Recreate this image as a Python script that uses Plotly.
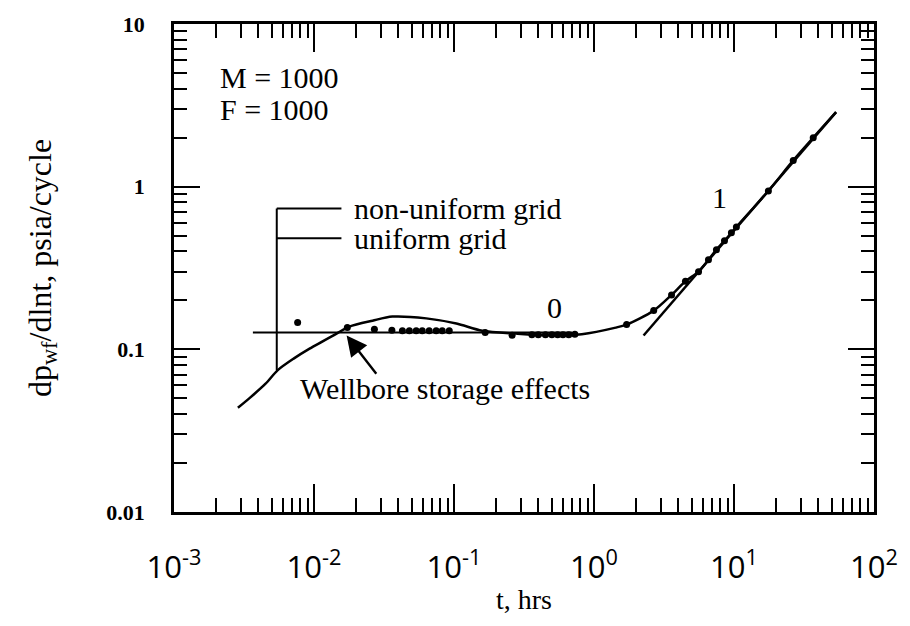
import math
import plotly.graph_objects as go

# ---- data ----
t_curve = [0.00286, 0.00348, 0.00451, 0.00551, 0.0072, 0.0093, 0.0145, 0.0179, 0.0262, 0.0363, 0.0634,
           0.104, 0.159, 0.277, 0.477, 0.818, 1.43, 1.71, 2.67, 3.58, 4.5, 5.58, 6.57,
           7.49, 8.55, 9.58, 10.4, 17.6, 26.5, 36.8, 53.6]
y_curve = [0.0437, 0.0503, 0.0615, 0.0745, 0.088, 0.101, 0.125, 0.138, 0.150, 0.159, 0.155,
           0.144, 0.130, 0.125, 0.122, 0.124, 0.136, 0.142, 0.173, 0.216, 0.262, 0.300, 0.355,
           0.410, 0.465, 0.520, 0.565, 0.940, 1.45, 2.00, 2.87]

t_dots = [0.00764, 0.0173, 0.027, 0.036, 0.0428, 0.048, 0.0537, 0.0593, 0.0665, 0.0746,
          0.0824, 0.0925, 0.167, 0.26, 0.36, 0.40, 0.45, 0.50, 0.55, 0.60, 0.66, 0.73,
          1.71, 2.67, 3.58, 4.5, 5.58, 6.57, 7.49, 8.55, 9.58, 10.4, 17.6, 26.5, 36.8]
y_dots = [0.146, 0.136, 0.133, 0.131, 0.130, 0.130, 0.130, 0.130, 0.130, 0.130,
          0.130, 0.130, 0.127, 0.122, 0.123, 0.123, 0.123, 0.123, 0.123, 0.123, 0.123, 0.124,
          0.142, 0.173, 0.216, 0.262, 0.300, 0.355, 0.410, 0.465, 0.520, 0.565, 0.940, 1.45, 2.00]

t_slope0 = [0.00366, 0.7]
y_slope0 = [0.127, 0.127]
t_slope1 = [2.26, 53.6]
y_slope1 = [0.1217, 2.87]

# legend bracket
t_bracket_v = [0.00542, 0.00542]
y_bracket_v = [0.0745, 0.734]
t_bracket_h = [0.00542, 0.0157]
y_leg_nonuni = 0.734
y_leg_uni = 0.482

x_tickvals = [1e-3, 1e-2, 1e-1, 1, 10, 100]
x_ticktext = ["10<sup>-3</sup>", "10<sup>-2</sup>", "10<sup>-1</sup>", "10<sup>0</sup>",
              "10<sup>1</sup>", "10<sup>2</sup>"]
y_tickvals = [0.01, 0.1, 1, 10]
y_ticktext = ["<b>0.01</b>", "<b>0.1</b>", "<b>1</b>", "<b>10</b>"]
minor_digits = [2, 3, 4, 5, 6, 7, 8, 9]

x_minor = [d * 10.0 ** e for e in range(-3, 2) for d in minor_digits]
y_minor = [d * 10.0 ** e for e in range(-2, 1) for d in minor_digits]

serif = "Liberation Serif, Times New Roman, serif"
LW = 2.5

fig = go.Figure()
fig.add_trace(go.Scatter(x=t_curve, y=y_curve, mode="lines",
                         line=dict(color="black", width=LW, shape="spline", smoothing=0.8),
                         showlegend=False, hoverinfo="skip"))
fig.add_trace(go.Scatter(x=t_slope0, y=y_slope0, mode="lines",
                         line=dict(color="black", width=2), showlegend=False))
fig.add_trace(go.Scatter(x=t_slope1, y=y_slope1, mode="lines",
                         line=dict(color="black", width=LW), showlegend=False))
fig.add_trace(go.Scatter(x=t_dots, y=y_dots, mode="markers",
                         marker=dict(color="black", size=7), showlegend=False))
fig.add_trace(go.Scatter(x=t_bracket_v, y=y_bracket_v, mode="lines",
                         line=dict(color="black", width=2), showlegend=False))
for yl in (y_leg_nonuni, y_leg_uni):
    fig.add_trace(go.Scatter(x=t_bracket_h, y=[yl, yl], mode="lines",
                             line=dict(color="black", width=2), showlegend=False))

def ann(x, y, text, size=30, xanchor="left"):
    fig.add_annotation(x=math.log10(x), y=math.log10(y), text=text, showarrow=False,
                       xanchor=xanchor, yanchor="middle",
                       font=dict(family=serif, size=size, color="black"))

ann(0.0188, y_leg_nonuni, "non-uniform grid")
ann(0.0188, y_leg_uni, "uniform grid")
ann(0.00206, 4.69, "M = 1000")
ann(0.00206, 2.99, "F = 1000")
ann(0.518, 0.180, "0", xanchor="center")
ann(7.87, 0.857, "1", xanchor="center")
ann(0.00764, 0.0578, "Wellbore storage effects")

fig.add_annotation(x=math.log10(0.0171), y=math.log10(0.1217),
                   ax=math.log10(0.0284), ay=math.log10(0.0694),
                   xref="x", yref="y", axref="x", ayref="y", text="",
                   showarrow=True, arrowhead=2, arrowsize=1.7, arrowwidth=2.4,
                   arrowcolor="black")

axis_common = dict(showline=True, linecolor="black", linewidth=LW, mirror="ticks",
                   ticks="inside", tickcolor="black", tickwidth=2, showgrid=False,
                   zeroline=False)

fig.update_xaxes(type="log", range=[-3, 2], tickmode="array",
                 tickvals=x_tickvals, ticktext=x_ticktext,
                 ticklen=28, ticklabelstandoff=26,
                 tickfont=dict(family="Open Sans, DejaVu Sans, sans-serif", size=31, color="black"),
                 minor=dict(ticks="inside", ticklen=14, tickwidth=2, tickcolor="black",
                            tickmode="array", tickvals=x_minor, showgrid=False),
                 title=dict(text="t, hrs", font=dict(family=serif, size=28, color="black"),
                            standoff=4),
                 **axis_common)
fig.update_yaxes(type="log", range=[-2, 1], tickmode="array",
                 tickvals=y_tickvals, ticktext=y_ticktext,
                 ticklen=26, ticklabelstandoff=22,
                 tickfont=dict(family=serif, size=22, color="black"),
                 minor=dict(ticks="inside", ticklen=13, tickwidth=2, tickcolor="black",
                            tickmode="array", tickvals=y_minor, showgrid=False),
                 title=dict(text="dp<sub>wf</sub>/dlnt, psia/cycle",
                            font=dict(family=serif, size=32, color="black"), standoff=46),
                 **axis_common)

fig.update_layout(width=910, height=626, margin=dict(l=174, r=34, t=18, b=114),
                  paper_bgcolor="white", plot_bgcolor="white", showlegend=False)

fig.write_html("out.html")
